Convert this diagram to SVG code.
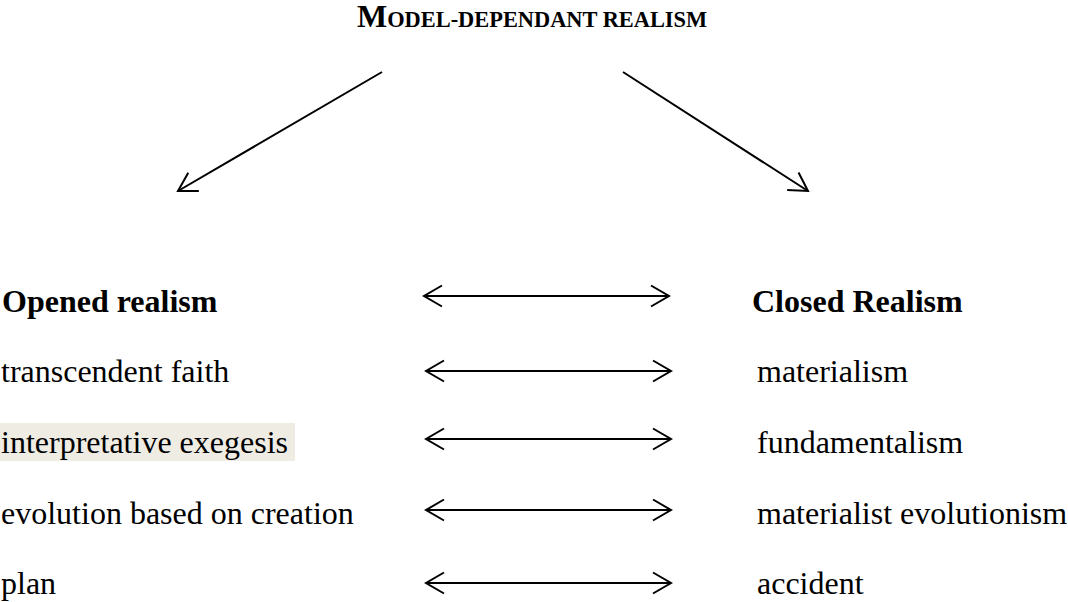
<svg xmlns="http://www.w3.org/2000/svg" width="1068" height="602" viewBox="0 0 1068 602">
  <style>
    text { font-family: "Liberation Serif", "Times New Roman", serif; font-size: 32px; fill: #000; }
    .b { font-weight: bold; }
    .conn line { stroke: #000; stroke-width: 2; fill: none; marker-end: url(#ah); }
    .conn line.both { marker-start: url(#ah); }
  </style>
  <defs>
    <marker id="ah" viewBox="-20 -12 22 24" refX="0" refY="0" markerWidth="22" markerHeight="24" markerUnits="userSpaceOnUse" orient="auto-start-reverse" overflow="visible">
      <path d="M-18,-10.5 L0,0 L-18,10.5" fill="none" stroke="#000" stroke-width="2"/>
    </marker>
  </defs>
  <rect width="1068" height="602" fill="#fff"/>

  <g id="title">
    <text class="b" x="357" y="27">M<tspan font-size="22.4">ODEL-DEPENDANT REALISM</tspan></text>
  </g>

  <g id="left-column">
    <g id="opened-realism"><text class="b" x="2" y="312">Opened realism</text></g>
    <g id="transcendent-faith"><text x="1" y="382">transcendent faith</text></g>
    <g id="interpretative-exegesis">
      <rect x="0" y="423" width="295" height="38" fill="#EFECE4"/>
      <text x="1" y="453">interpretative exegesis</text>
    </g>
    <g id="evolution-creation"><text x="1" y="524">evolution based on creation</text></g>
    <g id="plan"><text x="1" y="594">plan</text></g>
  </g>

  <g id="right-column">
    <g id="closed-realism"><text class="b" x="752" y="312">Closed Realism</text></g>
    <g id="materialism"><text x="757" y="382">materialism</text></g>
    <g id="fundamentalism"><text x="757" y="453">fundamentalism</text></g>
    <g id="materialist-evolutionism"><text x="757" y="524">materialist evolutionism</text></g>
    <g id="accident"><text x="757" y="594">accident</text></g>
  </g>

  <g id="connectors" class="conn">
    <line x1="382" y1="72" x2="178" y2="191"/>
    <line x1="623" y1="72" x2="808" y2="191"/>
    <line class="both" x1="424" y1="296" x2="669" y2="296"/>
    <line class="both" x1="426" y1="371" x2="671" y2="371"/>
    <line class="both" x1="426" y1="439" x2="671" y2="439"/>
    <line class="both" x1="426" y1="510" x2="671" y2="510"/>
    <line class="both" x1="426" y1="583" x2="671" y2="583"/>
  </g>
</svg>
